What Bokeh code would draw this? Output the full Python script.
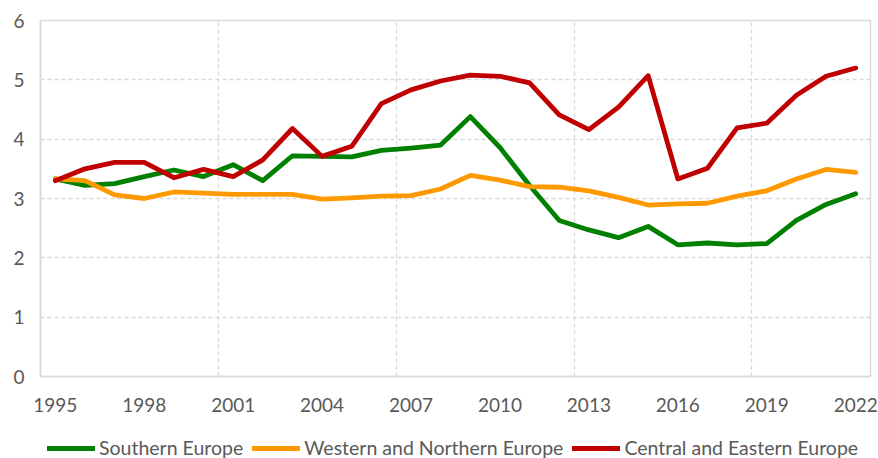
from bokeh.plotting import figure
from bokeh.layouts import column
from bokeh.models import FixedTicker, Legend, LegendItem, Range1d
from bokeh.embed import file_html
from bokeh.resources import INLINE

years = list(range(1995, 2023))
southern = [3.33, 3.22, 3.25, 3.37, 3.48, 3.37, 3.57, 3.30, 3.72, 3.71, 3.70, 3.81, 3.85, 3.90,
            4.38, 3.86, 3.22, 2.63, 2.47, 2.34, 2.53, 2.22, 2.25, 2.22, 2.24, 2.63, 2.90, 3.08]
western = [3.33, 3.30, 3.06, 3.00, 3.11, 3.09, 3.07, 3.07, 3.07, 2.99, 3.01, 3.04, 3.05, 3.16,
           3.39, 3.31, 3.20, 3.19, 3.13, 3.02, 2.89, 2.91, 2.92, 3.04, 3.13, 3.33, 3.49, 3.44]
central = [3.30, 3.50, 3.61, 3.61, 3.35, 3.49, 3.37, 3.65, 4.18, 3.71, 3.88, 4.60, 4.83, 4.98,
           5.08, 5.06, 4.95, 4.41, 4.16, 4.54, 5.07, 3.33, 3.51, 4.19, 4.27, 4.74, 5.06, 5.20]
series_names = ["Southern Europe", "Western and Northern Europe", "Central and Eastern Europe"]
x_tick_years = [1995, 1998, 2001, 2004, 2007, 2010, 2013, 2016, 2019, 2022]
x_grid_bounds = [2000.5, 2006.5, 2012.5, 2018.5]
y_ticks = [0, 1, 2, 3, 4, 5, 6]

FONT = "Lato"
TXT = "#595959"
GRID = "#d9d9d9"
colors = ["#008000", "#ff9900", "#c00000"]
all_series = [southern, western, central]

# main chart
p = figure(width=878, height=428, output_backend="svg", toolbar_location=None,
           x_range=Range1d(1994.5, 2022.5), y_range=Range1d(0, 6),
           min_border_left=40, min_border_right=8, min_border_top=20, min_border_bottom=52)
p.background_fill_color = "white"
p.border_fill_color = "white"
p.outline_line_color = GRID
p.outline_line_width = 1.5

p.xaxis.ticker = FixedTicker(ticks=x_tick_years)
p.yaxis.ticker = FixedTicker(ticks=y_ticks)
p.xgrid.ticker = FixedTicker(ticks=x_grid_bounds)
p.ygrid.ticker = FixedTicker(ticks=[1, 2, 3, 4, 5])
for g in (p.xgrid, p.ygrid):
    g.grid_line_color = GRID
    g.grid_line_dash = "4 3"
    g.grid_line_width = 1.3

for ax in (p.xaxis, p.yaxis):
    ax.axis_line_color = GRID
    ax.axis_line_width = 1.5
    ax.major_tick_line_color = None
    ax.minor_tick_line_color = None
    ax.major_tick_out = 0
    ax.major_tick_in = 0
    ax.major_label_text_font = FONT
    ax.major_label_text_font_size = "19px"
    ax.major_label_text_color = TXT
p.yaxis.major_label_standoff = 16
p.xaxis.major_label_standoff = 21

for vals, col in zip(all_series, colors):
    p.line(years, vals, line_color=col, line_width=4.8, line_join="round", line_cap="round")

# legend strip (its frame is aligned with the main frame by the column layout)
p2 = figure(width=878, height=30, output_backend="svg", toolbar_location=None,
            x_range=Range1d(0, 1), y_range=Range1d(0, 1), min_border=0,
            x_axis_type=None, y_axis_type=None)
p2.outline_line_color = None
p2.grid.visible = False
leg_renderers = []
for vals, col in zip(all_series, colors):
    r = p2.line(years, vals, line_color=col, line_width=4.8, line_cap="round")
    leg_renderers.append(r)

legend = Legend(items=[LegendItem(label=n, renderers=[r]) for n, r in zip(series_names, leg_renderers)],
                orientation="horizontal", location=(7, -1))
legend.background_fill_alpha = 0
legend.border_line_alpha = 0
legend.padding = 0
legend.margin = 0
legend.spacing = 9
legend.label_standoff = 4
legend.glyph_width = 48
legend.glyph_height = 20
legend.label_height = 20
legend.label_text_font = FONT
legend.label_text_font_size = "19.5px"
legend.label_text_color = TXT
legend.label_text_baseline = "middle"
p2.add_layout(legend)

layout = column(p, p2, spacing=0)
open("out.html", "w").write(file_html(layout, INLINE))
